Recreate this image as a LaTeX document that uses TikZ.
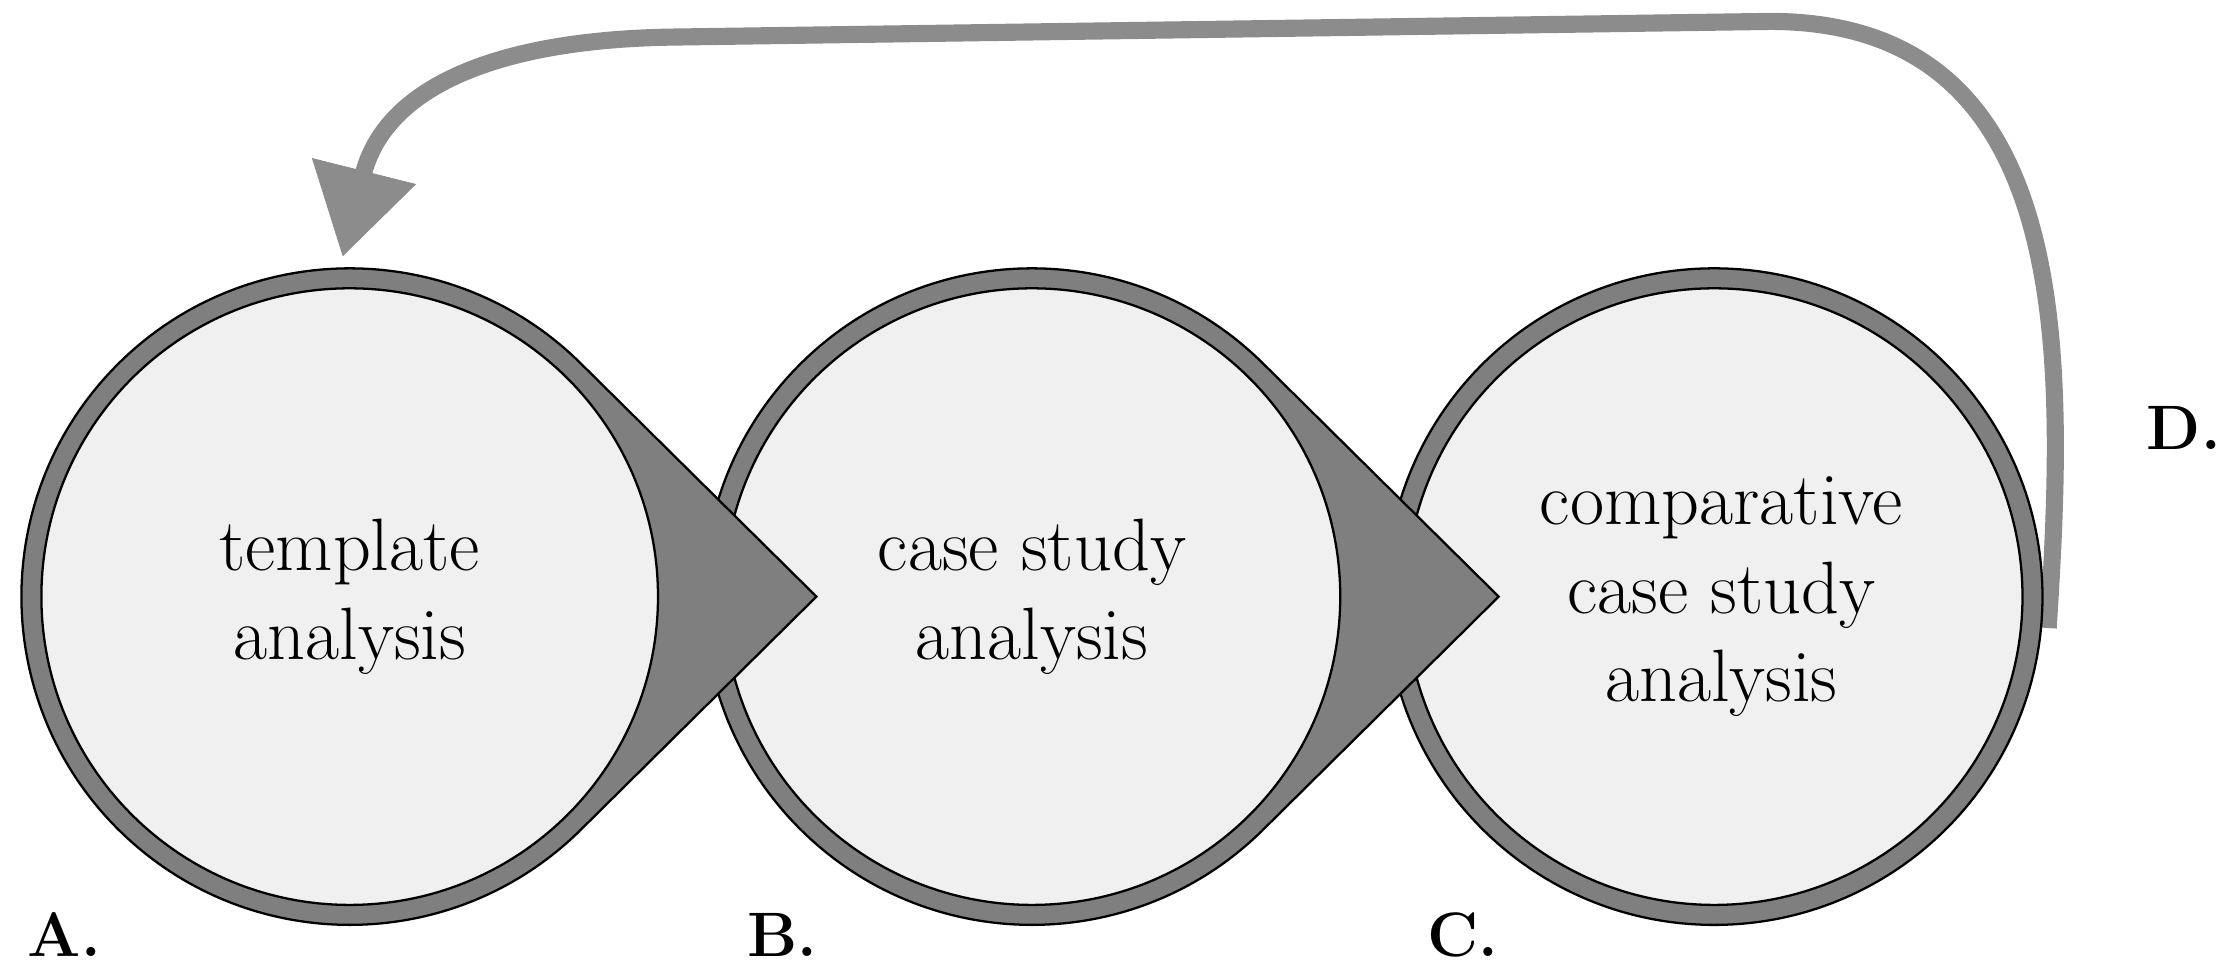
\documentclass[tikz,border=0pt]{standalone}
\usetikzlibrary{arrows.meta,calc}
\begin{document}
\begin{tikzpicture}[x=1pt,y=-1pt,
  ring/.style={fill=ringgray,draw=black,line width=1.6pt},
  inner/.style={fill=lightfill,draw=black,line width=1.6pt},
  lbl/.style={font=\fontsize{52}{62}\selectfont,align=center},
  tag/.style={font=\bfseries\fontsize{44}{50}\selectfont}]
\definecolor{ringgray}{HTML}{7F7F7F}
\definecolor{arrgray}{HTML}{8C8C8C}
\definecolor{lightfill}{HTML}{F0F0F0}
\useasboundingbox (0,0) rectangle (1568,679);
% feedback arrow
\coordinate (ds) at (1435,440);
\coordinate (dt) at (240,180);
\draw[arrgray,line width=12pt,-{Triangle[length=62pt,width=72pt]}]
  (ds) .. controls (1447,250) and (1455,15) .. (1240,15) -- (470,26)
  .. controls (350,28) and (270,60) .. (dt);
% circles, drawn right to left so pointers overlap next circle
\path[ring] (1201,418) circle[radius=230];
\node[inner,circle,minimum size=432pt] (cC) at (1201,418) {};
\foreach \cx/\nm in {723/B,245/A}{
  \path[ring] (\cx+327,418) -- ($(\cx,418)+(-45.3:230)$) arc[start angle=-45.3,end angle=-314.7,radius=230] -- cycle;
  \node[inner,circle,minimum size=432pt] (c\nm) at (\cx,418) {};
}
\node[lbl] (tA) at (cA) {template\\analysis};
\node[lbl] (tB) at (cB) {case study\\analysis};
\node[lbl] (tC) at ($(cC)+(5,0)$) {comparative\\case study\\analysis};
\node[tag] (la) at (45,655) {A.};
\node[tag] (lb) at (548,655) {B.};
\node[tag] (lc) at (1025,655) {C.};
\node[tag] (ld) at (1530,300) {D.};
\end{tikzpicture}
\end{document}
